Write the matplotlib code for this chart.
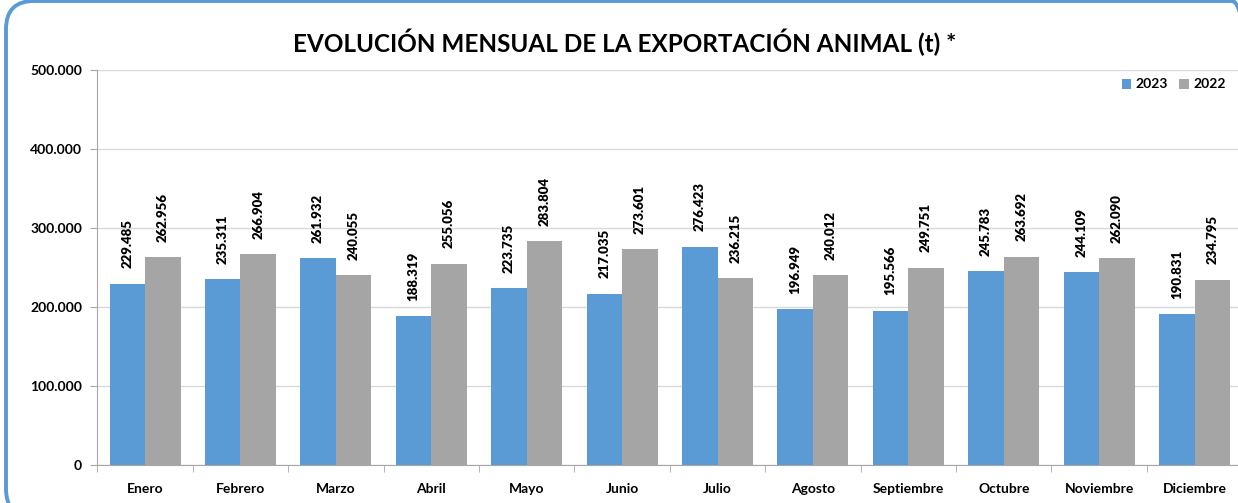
import matplotlib.pyplot as plt
import numpy as np
from matplotlib.patches import FancyBboxPatch
from matplotlib.ticker import FuncFormatter

meses = ["Enero", "Febrero", "Marzo", "Abril", "Mayo", "Junio", "Julio",
         "Agosto", "Septiembre", "Octubre", "Noviembre", "Diciembre"]
exp_2023 = [229485, 235311, 261932, 188319, 223735, 217035, 276423,
            196949, 195566, 245783, 244109, 190831]
exp_2022 = [262956, 266904, 240055, 255056, 283804, 273601, 236215,
            240012, 249751, 263692, 262090, 234795]

plt.rcParams['font.family'] = ['Lato', 'DejaVu Sans']
plt.rcParams['font.weight'] = 'bold'

azul = '#5B9BD5'
gris = '#A5A5A5'

fig = plt.figure(figsize=(12.38, 5.03), dpi=100)
ax = fig.add_axes([97.3 / 1238, 38 / 503, 1145 / 1238, 395 / 503])

x = np.arange(len(meses))
w = 0.372

def fmt(v):
    return f"{v:,.0f}".replace(",", ".")

b1 = ax.bar(x - w / 2, exp_2023, w, color=azul, label="2023", zorder=3)
b2 = ax.bar(x + w / 2, exp_2022, w, color=gris, label="2022", zorder=3)

for bars, vals in ((b1, exp_2023), (b2, exp_2022)):
    for r, v in zip(bars, vals):
        ax.annotate(fmt(v), (r.get_x() + r.get_width() / 2, v),
                    xytext=(0, 11), textcoords='offset points',
                    rotation=90, ha='center', va='bottom',
                    fontsize=9.5, fontweight='heavy')

ax.set_ylim(0, 500000)
ax.set_xlim(-0.5, 11.5)
ax.set_yticks(np.arange(0, 500001, 100000))
ax.yaxis.set_major_formatter(FuncFormatter(lambda v, p: fmt(v)))
ax.set_xticks(x)
ax.set_xticklabels(meses)
ax.set_xticks(np.arange(-0.5, 12, 1), minor=True)
ax.tick_params(axis='x', which='major', length=0, pad=13, labelsize=10)
ax.tick_params(axis='x', which='minor', length=5, color='#A6A6A6')
ax.tick_params(axis='y', length=5, color='#A6A6A6', labelsize=10, pad=6)
ax.grid(axis='y', color='#D9D9D9', lw=1, zorder=0)
for s in ('top', 'right'):
    ax.spines[s].set_visible(False)
for s in ('left', 'bottom'):
    ax.spines[s].set_color('#A6A6A6')

fig.text(625 / 1238, 1 - 42 / 503, "EVOLUCIÓN MENSUAL DE LA EXPORTACIÓN ANIMAL (t) *",
         ha='center', va='center', fontsize=17.5, fontweight='bold')

ax.legend(loc='upper right', bbox_to_anchor=(1238 / 1238, 1 - 66 / 503),
          bbox_transform=fig.transFigure, ncol=2, frameon=False,
          handlelength=0.7, handleheight=0.7, columnspacing=0.8,
          handletextpad=0.3, fontsize=10)

borde = FancyBboxPatch((6, -14), 1254, 516, boxstyle="round,pad=0,rounding_size=28",
                       transform=None, fill=False, edgecolor=azul, lw=2.8,
                       clip_on=False)
fig.patches.append(borde)

fig.savefig("out.png", dpi=100)
